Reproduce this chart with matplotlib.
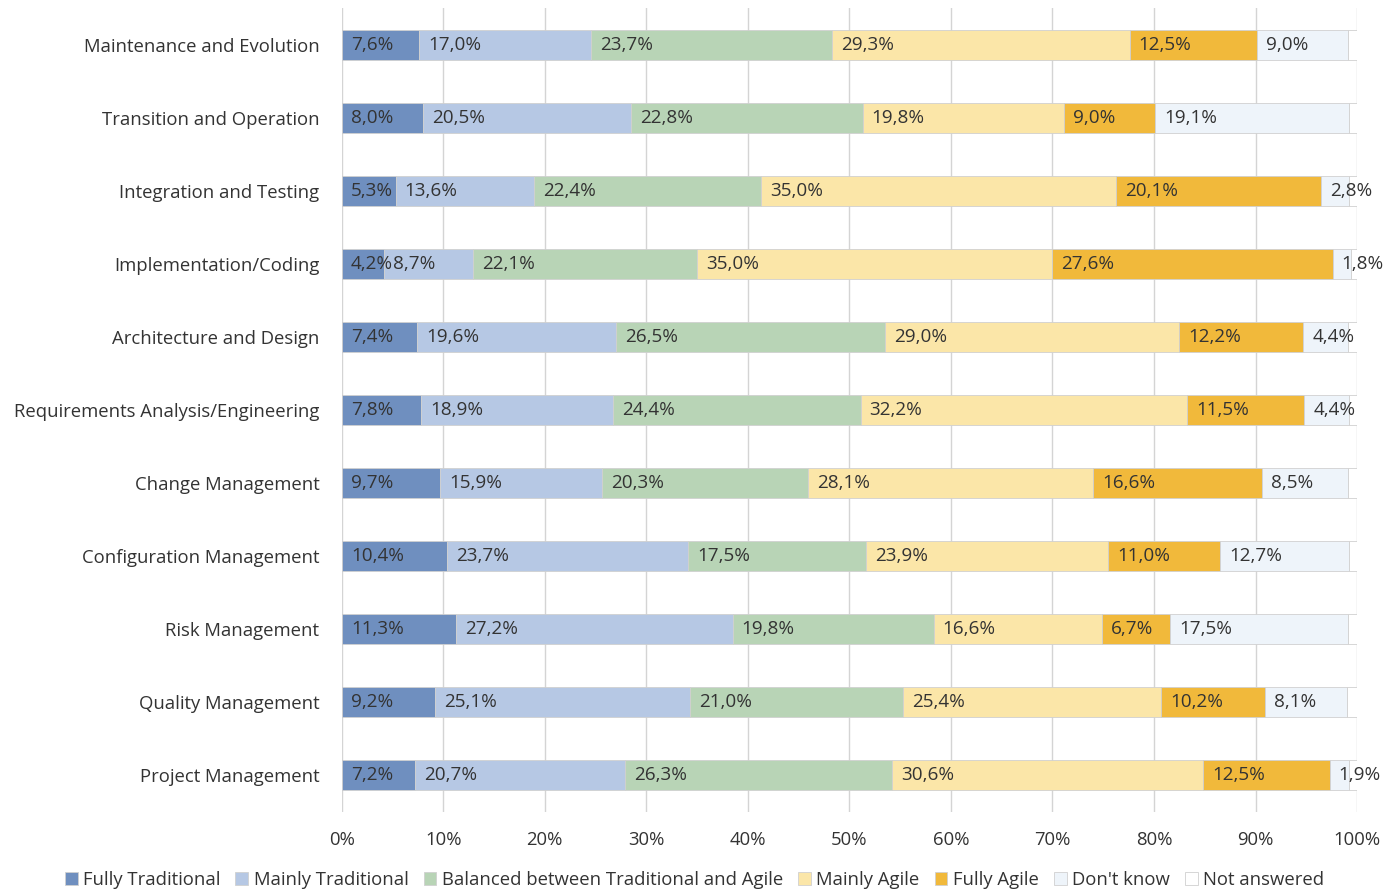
import numpy as np
import matplotlib.pyplot as plt

plt.rcParams['font.family'] = ['Open Sans', 'DejaVu Sans']

categories = ["Maintenance and Evolution", "Transition and Operation",
              "Integration and Testing", "Implementation/Coding",
              "Architecture and Design", "Requirements Analysis/Engineering",
              "Change Management", "Configuration Management",
              "Risk Management", "Quality Management", "Project Management"]

series = ["Fully Traditional", "Mainly Traditional",
          "Balanced between Traditional and Agile", "Mainly Agile",
          "Fully Agile", "Don't know", "Not answered"]

fully_trad = [7.6, 8.0, 5.3, 4.2, 7.4, 7.8, 9.7, 10.4, 11.3, 9.2, 7.2]
mainly_trad = [17.0, 20.5, 13.6, 8.7, 19.6, 18.9, 15.9, 23.7, 27.2, 25.1, 20.7]
balanced = [23.7, 22.8, 22.4, 22.1, 26.5, 24.4, 20.3, 17.5, 19.8, 21.0, 26.3]
mainly_agile = [29.3, 19.8, 35.0, 35.0, 29.0, 32.2, 28.1, 23.9, 16.6, 25.4, 30.6]
fully_agile = [12.5, 9.0, 20.1, 27.6, 12.2, 11.5, 16.6, 11.0, 6.7, 10.2, 12.5]
dont_know = [9.0, 19.1, 2.8, 1.8, 4.4, 4.4, 8.5, 12.7, 17.5, 8.1, 1.9]
not_answered = [0.9, 0.8, 0.8, 0.6, 0.9, 0.8, 0.9, 0.8, 0.9, 1.0, 0.8]

colors = ["#6f8fbf", "#b6c8e4", "#b8d4b6", "#fbe6a8", "#f1b93b",
          "#eef4fa", "#ffffff"]

data = [fully_trad, mainly_trad, balanced, mainly_agile, fully_agile,
        dont_know, not_answered]

fig, ax = plt.subplots(figsize=(13.89, 8.90), dpi=100)
fig.subplots_adjust(left=0.246, right=0.977, top=0.991, bottom=0.088)

y = np.arange(len(categories))
left = np.zeros(len(categories))

for i, (name, vals) in enumerate(zip(series, data)):
    vals = np.array(vals)
    ax.barh(y, vals, left=left, height=0.41, color=colors[i],
            edgecolor="#d0d0d0", linewidth=0.6, label=name, zorder=2)
    # value labels for all but "Not answered"
    if i < 6:
        for yy, l, v in zip(y, left, vals):
            ax.text(l + 0.9, yy, f"{v:.1f}%".replace(".", ","),
                    va="center", ha="left", fontsize=13.6, color="#333333",
                    zorder=3)
    left += vals

ax.set_xlim(0, 100)
ax.set_ylim(10.5, -0.5)
ax.set_yticks(y)
ax.set_yticklabels(categories, fontsize=13.3, color="#333333")
ax.set_xticks(np.arange(0, 101, 10))
ax.set_xticklabels([f"{t}%" for t in range(0, 101, 10)], fontsize=13.3,
                   color="#333333")
ax.tick_params(length=0, pad=16)
ax.tick_params(axis="x", pad=14)

ax.grid(axis="x", color="#d4d4d4", linewidth=1, zorder=0)
for s in ax.spines.values():
    s.set_visible(False)

leg = fig.legend(loc="lower center", ncol=7, frameon=False, fontsize=13.3,
                 handlelength=0.7, handleheight=0.7, handletextpad=0.3,
                 columnspacing=0.8, bbox_to_anchor=(0.5, -0.018))
for t in leg.get_texts():
    t.set_color("#333333")

plt.savefig("out.png", dpi=100)
